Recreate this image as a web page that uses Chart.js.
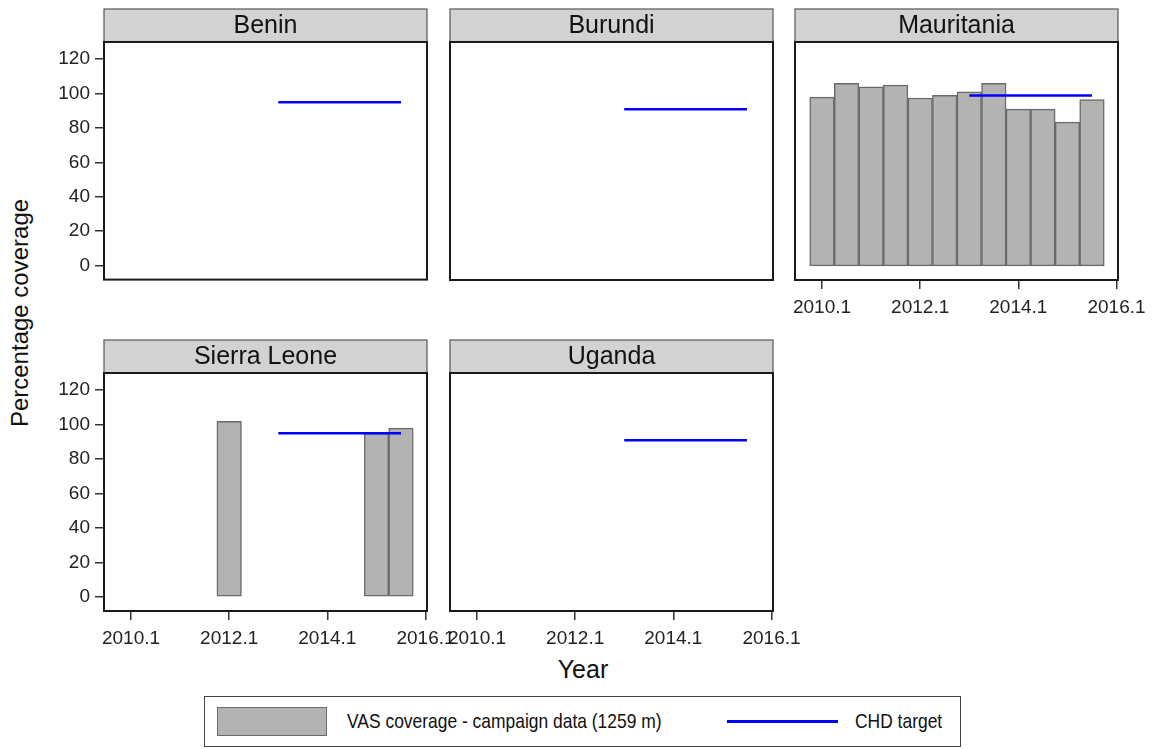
<!DOCTYPE html>
<html>
<head>
<meta charset="utf-8">
<title>VAS coverage by country</title>
<script src="https://cdn.jsdelivr.net/npm/chart.js@4.4.1/dist/chart.umd.min.js"></script>
<style>
  html, body { margin: 0; padding: 0; background: #fff; }
  body { width: 1154px; height: 749px; position: relative; overflow: hidden;
         font-family: "Liberation Sans", Arial, sans-serif; color: #111; }
  canvas { position: absolute; }
  #ytitle { position: absolute; left: 20px; top: 313px; font-size: 24px; white-space: nowrap;
            transform: translate(-50%, -50%) rotate(-90deg); }
  #xtitle { position: absolute; left: 583px; top: 669px; font-size: 25px; white-space: nowrap;
            transform: translate(-50%, -50%); }
  #legend { position: absolute; left: 204px; top: 696px; width: 757px; height: 51px;
            border: 1px solid #444; box-sizing: border-box; }
  #legend .swatch { position: absolute; left: 12px; top: 10px; width: 110px; height: 29px;
            background: #b3b3b3; border: 1px solid #6a6a6a; box-sizing: border-box; }
  #legend .line { position: absolute; left: 522px; top: 23px; width: 111px; height: 3px; background: #0000ff; }
  #legend .lbl { position: absolute; top: 12px; line-height: 24px; white-space: nowrap;
            font-size: 21px; transform: scaleX(0.83); transform-origin: 0 50%; }
</style>
</head>
<body>
<div id="ytitle">Percentage coverage</div>
<div id="xtitle">Year</div>
<div id="legend">
  <div class="swatch"></div>
  <div class="lbl" style="left:142px">VAS coverage - campaign data (1259 m)</div>
  <div class="line"></div>
  <div class="lbl" style="left:650px">CHD target</div>
</div>
<script>
// Countries shown, one panel each
const countries = ['Benin', 'Burundi', 'Mauritania', 'Sierra Leone', 'Uganda'];

// Campaign VAS coverage (%) by half-year round
const mauritaniaYears = [2010.1, 2010.6, 2011.1, 2011.6, 2012.1, 2012.6, 2013.1, 2013.6, 2014.1, 2014.6, 2015.1, 2015.6];
const mauritaniaCoverage = [98, 106, 104, 105, 97.5, 99, 101, 106, 91, 91, 83.5, 96.5];
const sierraLeoneYears = [2012.1, 2015.1, 2015.6];
const sierraLeoneCoverage = [102, 95, 98];

// CHD target (%) per country, same order as countries
const targetYears = [2013.1, 2015.6];
const targetValues = [95, 91, 99, 95, 91];

// Axis ticks
const xTicks = [2010.1, 2012.1, 2014.1, 2016.1];
const yTicks = [0, 20, 40, 60, 80, 100, 120];

const campaignYears = { 'Mauritania': mauritaniaYears, 'Sierra Leone': sierraLeoneYears };
const campaignCoverage = { 'Mauritania': mauritaniaCoverage, 'Sierra Leone': sierraLeoneCoverage };

// Panel grid: plot-area top-left corner, plus which axes carry labels
const layout = [
  { left: 104, top: 42,  yAxis: true,  xAxis: false },
  { left: 450, top: 42,  yAxis: false, xAxis: false },
  { left: 795, top: 42,  yAxis: false, xAxis: true  },
  { left: 104, top: 373, yAxis: true,  xAxis: true  },
  { left: 450, top: 373, yAxis: false, xAxis: true  }
];
const PLOT_W = 323, PLOT_H = 238, STRIP_H = 33;
const Y_AXIS_W = 60, X_AXIS_H = 45;
const PAD = { left: 12, right: 36, top: STRIP_H + 3, bottom: 16 };
const FONT = '"Liberation Sans", Arial, sans-serif';

// Grey title strip above each panel and the dark frame round the plot area
const panelFrame = {
  id: 'panelFrame',
  afterDatasetsDraw(chart, args, opts) {
    const { ctx, chartArea: a } = chart;
    const w = a.right - a.left, h = a.bottom - a.top;
    ctx.save();
    ctx.fillStyle = '#d2d2d2';
    ctx.fillRect(a.left, a.top - STRIP_H, w, STRIP_H);
    ctx.strokeStyle = '#555';
    ctx.lineWidth = 1.2;
    ctx.strokeRect(a.left, a.top - STRIP_H, w, STRIP_H);
    ctx.fillStyle = '#111';
    ctx.font = '25px ' + FONT;
    ctx.textAlign = 'center';
    ctx.textBaseline = 'middle';
    ctx.fillText(opts.title, (a.left + a.right) / 2, a.top - STRIP_H / 2 + 1);
    ctx.strokeStyle = '#1a1a1a';
    ctx.lineWidth = 2;
    ctx.strokeRect(a.left, a.top, w, h);
    ctx.restore();
  }
};

countries.forEach((name, i) => {
  const p = layout[i];
  const canvas = document.createElement('canvas');
  const width = (p.yAxis ? Y_AXIS_W : 0) + PAD.left + PLOT_W + PAD.right;
  const height = PAD.top + PLOT_H + (p.xAxis ? X_AXIS_H : 0) + PAD.bottom;
  canvas.width = width;
  canvas.height = height;
  canvas.style.left = (p.left - PAD.left - (p.yAxis ? Y_AXIS_W : 0)) + 'px';
  canvas.style.top = (p.top - PAD.top) + 'px';
  document.body.appendChild(canvas);

  const xs = campaignYears[name] || [];
  const ys = campaignCoverage[name] || [];

  new Chart(canvas, {
    type: 'bar',
    data: {
      datasets: [
        {
          type: 'line',
          label: 'CHD target',
          data: targetYears.map(x => ({ x, y: targetValues[i] })),
          borderColor: '#0000ff',
          borderWidth: 2.5,
          pointRadius: 0,
          fill: false,
          order: 0
        },
        {
          type: 'bar',
          label: 'VAS coverage - campaign data (1259 m)',
          data: xs.map((x, k) => ({ x, y: ys[k] })),
          backgroundColor: '#b3b3b3',
          borderColor: '#6a6a6a',
          borderWidth: 1.5,
          borderSkipped: false,
          barPercentage: 1,
          categoryPercentage: 1,
          order: 1
        }
      ]
    },
    options: {
      responsive: false,
      animation: false,
      devicePixelRatio: 1,
      layout: { padding: PAD },
      plugins: {
        legend: { display: false },
        tooltip: { enabled: false },
        panelFrame: { title: name }
      },
      scales: {
        x: {
          type: 'linear',
          min: 2009.55,
          max: 2016.13,
          offset: false,
          display: p.xAxis,
          afterBuildTicks: s => { s.ticks = xTicks.map(v => ({ value: v })); },
          afterFit: s => { s.height = p.xAxis ? X_AXIS_H : 0; },
          grid: { offset: false, drawOnChartArea: false, drawTicks: true, tickLength: 9, color: '#333', lineWidth: 1.5 },
          border: { display: false },
          ticks: {
            autoSkip: false, maxRotation: 0, padding: 7,
            color: '#222', font: { family: FONT, size: 19 },
            callback: v => String(v)
          }
        },
        y: {
          type: 'linear',
          min: -8.2,
          max: 130,
          display: p.yAxis,
          afterBuildTicks: s => { s.ticks = yTicks.map(v => ({ value: v })); },
          afterFit: s => { s.width = p.yAxis ? Y_AXIS_W : 0; },
          grid: { offset: false, drawOnChartArea: false, drawTicks: true, tickLength: 9, color: '#333', lineWidth: 1.5 },
          border: { display: false },
          ticks: {
            padding: 5, color: '#222', font: { family: FONT, size: 19 },
            callback: v => String(v)
          }
        }
      }
    },
    plugins: [panelFrame]
  });
});
</script>
</body>
</html>
